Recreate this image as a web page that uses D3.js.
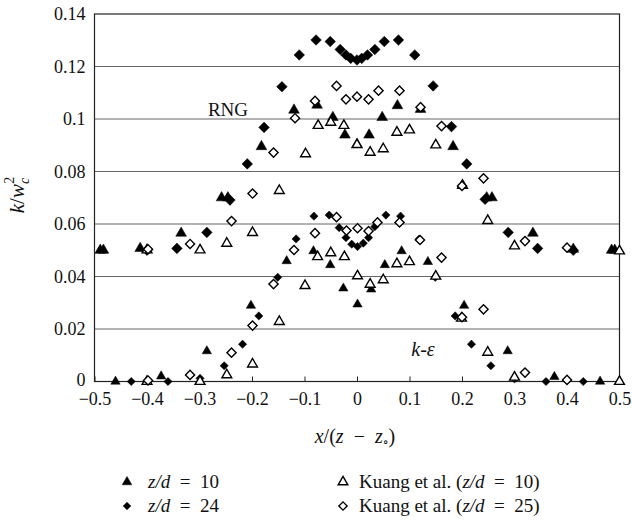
<!DOCTYPE html>
<html>
<head>
<meta charset="utf-8">
<script src="https://cdn.jsdelivr.net/npm/d3@7"></script>
<style>
  body { margin: 0; background: #fff; }
  svg text { font-family: "Liberation Serif", "DejaVu Serif", serif; fill: #111; }
</style>
</head>
<body>
<svg width="632" height="520"></svg>
<script>

// tick values
let xTicks = [-0.5, -0.4, -0.3, -0.2, -0.1, 0, 0.1, 0.2, 0.3, 0.4, 0.5];
let yTicks = [0, 0.02, 0.04, 0.06, 0.08, 0.1, 0.12, 0.14];

// RNG, z/d = 10 (filled triangles, shifted up by 0.05)
let rng10 = [[-0.489, 0.050], [-0.483, 0.050], [-0.413, 0.0507], [-0.335, 0.0565], [-0.258, 0.0700],
    [-0.246, 0.0700], [-0.182, 0.0895], [-0.120, 0.1034], [-0.076, 0.1053], [-0.046, 0.1006],
    [-0.023, 0.0939], [0, 0.0903], [0.023, 0.0939], [0.048, 0.1006], [0.077, 0.1051],
    [0.121, 0.1037], [0.183, 0.0895], [0.247, 0.0700], [0.257, 0.0700], [0.335, 0.0565],
    [0.412, 0.0504], [0.485, 0.050], [0.491, 0.050]];

// k-eps, z/d = 10 (filled triangles)
let ke10 = [[-0.46, 0], [-0.373, 0.002], [-0.286, 0.0116], [-0.202, 0.0289], [-0.134, 0.0459],
    [-0.083, 0.0497], [-0.051, 0.0444], [-0.026, 0.0355], [0.001, 0.0294], [0.027, 0.0351],
    [0.053, 0.0444], [0.085, 0.0497], [0.135, 0.0456], [0.204, 0.0289], [0.287, 0.0116],
    [0.376, 0.0018], [0.463, 0]];

// RNG, z/d = 24 (filled diamonds)
let rng24 = [[-0.400, 0.050], [-0.343, 0.0507], [-0.286, 0.0568], [-0.242, 0.0691], [-0.209, 0.0829],
    [-0.177, 0.0968], [-0.143, 0.1123], [-0.110, 0.1244], [-0.078, 0.1301], [-0.051, 0.1295],
    [-0.032, 0.1265], [-0.021, 0.1244], [-0.012, 0.1231], [0, 0.1225], [0.009, 0.1231],
    [0.020, 0.1244], [0.034, 0.1265], [0.052, 0.1295], [0.079, 0.1301], [0.110, 0.1244],
    [0.145, 0.1126], [0.180, 0.0971], [0.209, 0.0829], [0.244, 0.0694], [0.288, 0.0568],
    [0.344, 0.0507], [0.412, 0.050]];

// k-eps, z/d = 24 (filled diamonds)
let ke24 = [[-0.43, 0], [-0.36, 0], [-0.299, 0.0012], [-0.253, 0.006], [-0.218, 0.0142],
    [-0.187, 0.025], [-0.151, 0.0397], [-0.116, 0.0543], [-0.082, 0.063], [-0.053, 0.0634],
    [-0.034, 0.0586], [-0.021, 0.0548], [-0.010, 0.0523], [0.001, 0.0514], [0.012, 0.0527],
    [0.022, 0.0548], [0.034, 0.059], [0.055, 0.0634], [0.083, 0.063], [0.118, 0.0542],
    [0.149, 0.0397], [0.187, 0.025], [0.218, 0.0142], [0.255, 0.006], [0.300, 0.001],
    [0.36, 0], [0.431, 0]];

// Kuang et al., z/d = 10 (open triangles), both copies
let kuang10 = [[-0.40, 0.0501], [-0.299, 0.0501], [-0.248, 0.0526], [-0.199, 0.0567], [-0.148, 0.0727],
    [-0.098, 0.0867], [-0.074, 0.0975], [-0.050, 0.0987], [-0.025, 0.0975], [0, 0.0902],
    [0.025, 0.0873], [0.050, 0.0886], [0.076, 0.0949], [0.100, 0.0958], [0.150, 0.0901],
    [0.201, 0.0747], [0.249, 0.0613], [0.300, 0.0516], [0.5, 0.0497],
    [-0.40, 0], [-0.299, 0], [-0.248, 0.0025], [-0.199, 0.0066], [-0.148, 0.0228],
    [-0.099, 0.0365], [-0.075, 0.0475], [-0.050, 0.0490], [-0.024, 0.0475], [0.001, 0.0402],
    [0.025, 0.0370], [0.050, 0.0387], [0.076, 0.0448], [0.100, 0.0456], [0.150, 0.0401],
    [0.199, 0.0241], [0.249, 0.0111], [0.300, 0.0016], [0.5, 0]];

// Kuang et al., z/d = 25 (open diamonds), both copies
let kuang25 = [[-0.398, 0.0504], [-0.318, 0.0524], [-0.239, 0.0611], [-0.199, 0.0716], [-0.159, 0.0872],
    [-0.118, 0.1003], [-0.080, 0.1069], [-0.039, 0.1126], [-0.021, 0.1075], [0, 0.1085],
    [0.022, 0.1075], [0.041, 0.1108], [0.081, 0.1108], [0.121, 0.1045], [0.161, 0.0973],
    [0.200, 0.0745], [0.241, 0.0774], [0.320, 0.0535], [0.400, 0.0510],
    [-0.398, 0.0004], [-0.318, 0.0025], [-0.239, 0.011], [-0.199, 0.0213], [-0.159, 0.0371],
    [-0.120, 0.0501], [-0.080, 0.0565], [-0.039, 0.0626], [-0.020, 0.0575], [0.001, 0.0584],
    [0.022, 0.0573], [0.039, 0.0606], [0.081, 0.0606], [0.120, 0.0539], [0.161, 0.0472],
    [0.200, 0.0245], [0.241, 0.0275], [0.320, 0.0034], [0.400, 0.0006]];


let svg = d3.select('svg');
let margin = { top: 14, right: 12.5, bottom: 138.5, left: 94.5 };
let width = +svg.attr('width');
let height = +svg.attr('height');

let x = d3.scaleLinear()
    .domain([-0.5, 0.5])
    .range([margin.left, width - margin.right]);

let y = d3.scaleLinear()
    .domain([0, 0.14])
    .range([height - margin.bottom, margin.top]);

// grid lines
svg.append('g')
    .selectAll('line')
    .data(yTicks.slice(1, -1))
    .enter().append('line')
    .attr('x1', x(-0.5)).attr('x2', x(0.5))
    .attr('y1', d => y(d)).attr('y2', d => y(d))
    .attr('stroke', '#666')
    .attr('stroke-width', 1);

// frame
svg.append('rect')
    .attr('x', x(-0.5)).attr('y', y(0.14))
    .attr('width', x(0.5) - x(-0.5))
    .attr('height', y(0) - y(0.14))
    .attr('fill', 'none')
    .attr('stroke', '#222')
    .attr('stroke-width', 1.2);

let xAxis = svg.append('g')
    .attr('transform', 'translate(0,' + y(0) + ')')
    .call(d3.axisBottom(x)
        .tickValues(xTicks)
        .tickSize(-5)
        .tickPadding(11)
        .tickFormat(d => d === 0 ? '0' : d3.format('.1f')(d)));
xAxis.select('.domain').remove();
xAxis.selectAll('line').attr('stroke', '#222');
xAxis.selectAll('text').style('font-size', '18px').style('font-family', '"Liberation Serif", serif');

let yAxis = svg.append('g')
    .attr('transform', 'translate(' + margin.left + ',0)')
    .call(d3.axisLeft(y)
        .tickValues(yTicks)
        .tickSize(0)
        .tickPadding(9)
        .tickFormat(d => String(d)));
yAxis.select('.domain').remove();
yAxis.selectAll('text').style('font-size', '18px').style('font-family', '"Liberation Serif", serif');
yAxis.selectAll('text').filter(d => d === 0).attr('dy', '0.2em');

// symbols
let tri = s => d3.symbol().type(d3.symbolTriangle).size(s)();
let dia = s => d3.symbol().type(d3.symbolSquare).size(s)();

function plot(data, path, filled, rotate) {
    svg.append('g')
        .selectAll('path')
        .data(data)
        .enter().append('path')
        .attr('d', path)
        .attr('transform', d => 'translate(' + x(d[0]) + ',' + y(d[1]) + ')' + (rotate ? ' rotate(45)' : ''))
        .attr('fill', filled ? '#000' : '#fff')
        .attr('stroke', '#000')
        .attr('stroke-width', filled ? 0.5 : 1.4);
}

plot(rng10, tri(50), true, false);
plot(ke10, tri(38), true, false);
plot(rng24, dia(56), true, true);
plot(ke24, dia(34), true, true);
plot(kuang10, tri(42), false, false);
plot(kuang25, dia(42), false, true);

// annotations
svg.append('text')
    .attr('x', 228).attr('y', 116)
    .attr('text-anchor', 'middle')
    .style('font-size', '19px')
    .text('RNG');

svg.append('text')
    .attr('x', 423).attr('y', 356)
    .attr('text-anchor', 'middle')
    .style('font-size', '20px')
    .style('font-style', 'italic')
    .text('k-ε');

// axis titles
let yt = svg.append('text')
    .attr('transform', 'translate(24,195) rotate(-90)')
    .attr('text-anchor', 'middle')
    .style('font-size', '21px');
yt.append('tspan').style('font-style', 'italic').text('k');
yt.append('tspan').text('/');
yt.append('tspan').style('font-style', 'italic').text('w');
yt.append('tspan').style('font-style', 'italic').style('font-size', '14px').attr('dy', 5).text('c');
yt.append('tspan').style('font-size', '14px').attr('dx', -6).attr('dy', -15).text('2');

let xt = svg.append('text')
    .attr('x', 355).attr('y', 443)
    .attr('text-anchor', 'middle')
    .style('font-size', '20px');
xt.append('tspan').style('font-style', 'italic').text('x');
xt.append('tspan').text('/(');
xt.append('tspan').style('font-style', 'italic').text('z');
xt.append('tspan').text('\u2002−\u2002');
xt.append('tspan').style('font-style', 'italic').text('z');
xt.append('tspan').style('font-size', '12px').attr('dy', 3).text('∘');
xt.append('tspan').attr('dy', -3).text(')');

// legend
let legend = [
    { mark: tri(40), fill: true, rot: false, x: 127, y: 482, label: ['', 'z/d', '\u2002=\u200210'] },
    { mark: dia(30), fill: true, rot: true, x: 127, y: 506, label: ['', 'z/d', '\u2002=\u200224'] },
    { mark: tri(40), fill: false, rot: false, x: 343, y: 482, label: ['Kuang et al. (', 'z/d', '\u2002=\u200210)'] },
    { mark: dia(34), fill: false, rot: true, x: 343, y: 506, label: ['Kuang et al. (', 'z/d', '\u2002=\u200225)'] }
];

let lg = svg.append('g')
    .selectAll('g')
    .data(legend)
    .enter().append('g');

lg.append('path')
    .attr('d', d => d.mark)
    .attr('transform', d => 'translate(' + d.x + ',' + d.y + ')' + (d.rot ? ' rotate(45)' : ''))
    .attr('fill', d => d.fill ? '#000' : '#fff')
    .attr('stroke', '#000')
    .attr('stroke-width', d => d.fill ? 0.5 : 1.4);

let lt = lg.append('text')
    .attr('x', d => d.x + (d.fill ? 21 : 16))
    .attr('y', d => d.y + 6)
    .style('font-size', '19px');
lt.append('tspan').text(d => d.label[0]);
lt.append('tspan').style('font-style', 'italic').text(d => d.label[1]);
lt.append('tspan').text(d => d.label[2]);

</script>
</body>
</html>
